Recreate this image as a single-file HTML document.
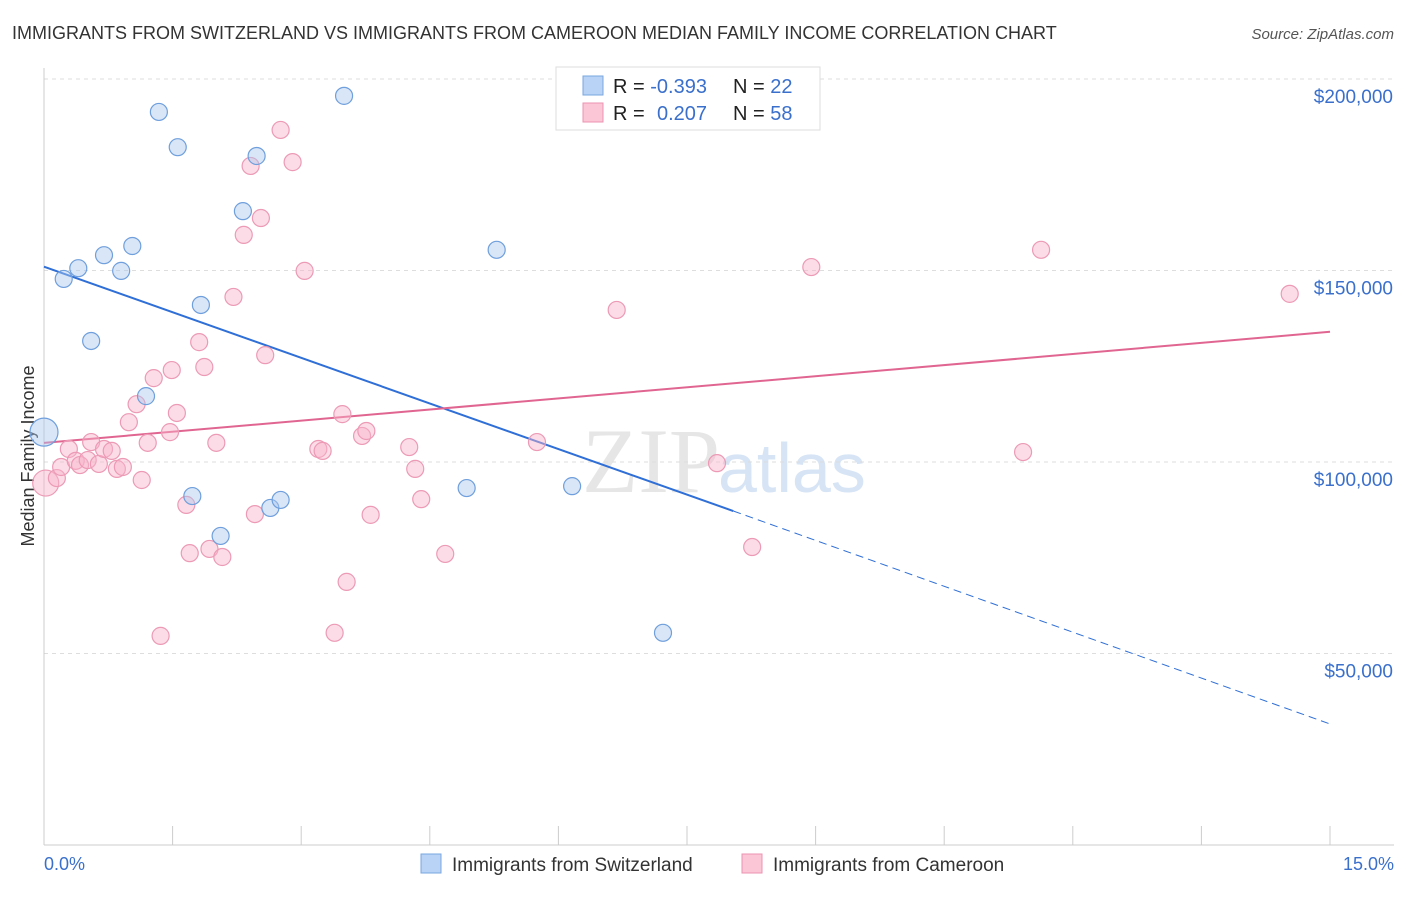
<!DOCTYPE html>
<html><head><meta charset="utf-8"><style>
body{margin:0;background:#fff;font-family:"Liberation Sans",sans-serif}
</style></head><body>
<svg id="c" width="1406" height="892" xmlns="http://www.w3.org/2000/svg" style="font-family:'Liberation Sans',sans-serif">
<text x="12" y="39" font-size="18" fill="#333">IMMIGRANTS FROM SWITZERLAND VS IMMIGRANTS FROM CAMEROON MEDIAN FAMILY INCOME CORRELATION CHART</text>
<text x="1394" y="39" font-size="15" fill="#555" font-style="italic" text-anchor="end">Source: ZipAtlas.com</text>
<text x="34" y="456" font-size="18" fill="#333" text-anchor="middle" transform="rotate(-90 34 456)">Median Family Income</text>
<text x="720" y="492" font-size="92" fill="#e6e6e6" text-anchor="end" font-family="Liberation Serif">ZIP</text>
<text x="718" y="492" font-size="70" fill="#d6e4f5">atlas</text>
<g id="grid"></g><g id="axes"></g><g id="trend"></g><g id="pts"></g>
<g>
<rect x="556" y="67" width="264" height="63" fill="#fff" stroke="#ddd"/>
<rect x="583" y="76" width="20" height="19" fill="#b8d3f5" stroke="#7aa7e0"/>
<rect x="583" y="103" width="20" height="19" fill="#fbc6d6" stroke="#eb93b0"/>
<text x="613" y="93" font-size="20" fill="#222">R = <tspan fill="#3a70cc">-0.393</tspan><tspan x="733">N = </tspan><tspan fill="#3a70cc">22</tspan></text>
<text x="613" y="120" font-size="20" fill="#222">R = <tspan x="657" fill="#3a70cc">0.207</tspan><tspan x="733">N = </tspan><tspan fill="#3a70cc">58</tspan></text>
</g>
<g>
<rect x="421" y="854" width="20" height="19" fill="#b8d3f5" stroke="#7aa7e0"/>
<text x="452" y="871" font-size="19" fill="#333">Immigrants from Switzerland</text>
<rect x="742" y="854" width="20" height="19" fill="#fbc6d6" stroke="#eb93b0"/>
<text x="773" y="871" font-size="19" fill="#333">Immigrants from Cameroon</text>
</g>
<text x="44" y="870" font-size="18" fill="#3a70cc">0.0%</text>
<text x="1394" y="870" font-size="18" fill="#3a70cc" text-anchor="end">15.0%</text>
</svg>
<script>
const blueX=[0.0,0.23,0.40,0.70,0.90,1.03,0.55,1.19,1.34,1.56,1.83,2.32,2.48,3.50,1.73,2.06,2.64,2.76,4.93,5.28,6.16,7.22];
const blueY=[107.8,147.8,150.6,154.0,149.9,156.4,131.6,117.2,191.4,182.2,141.0,165.5,179.9,195.6,91.1,80.7,88.0,90.1,93.2,155.4,93.7,55.4];
const pinkX=[0.02,0.15,0.20,0.29,0.37,0.42,0.51,0.55,0.64,0.70,0.79,0.85,0.92,0.99,1.08,1.14,1.21,1.28,1.36,1.47,1.49,1.55,1.66,1.70,1.81,1.87,1.93,2.01,2.08,2.21,2.33,2.46,2.53,2.41,2.58,2.76,2.90,3.04,3.20,3.25,3.39,3.48,3.53,3.71,3.76,3.81,4.26,4.33,4.40,4.68,5.75,6.68,7.85,8.26,8.95,11.42,11.63,14.53];
const pinkY=[94.5,95.8,98.7,103.4,100.3,99.2,100.5,105.2,99.5,103.4,102.9,98.2,98.7,110.4,115.1,95.3,105.0,121.9,54.6,107.8,124.0,112.8,88.8,76.2,131.3,124.8,77.3,105.0,75.2,143.1,159.3,86.4,163.7,177.3,127.9,186.7,178.3,149.9,103.4,102.9,55.4,112.5,68.7,106.8,108.1,86.2,103.9,98.2,90.3,76.0,105.2,139.7,99.7,77.8,150.9,102.6,155.4,143.9];
const blueTrendX=[0,8.04,15];
const blueTrendY=[151,87.2,31.6];
const pinkTrendX=[0,15];
const pinkTrendY=[105,134];
const yTicks=[50,100,150,200];
const yTickLabels=["$50,000","$100,000","$150,000","$200,000"];
const xTicks=[0,1.5,3,4.5,6,7.5,9,10.5,12,13.5,15];
const X=v=>44+v*(1286/15), Y=v=>845-v*(191.5/50);
const NS="http://www.w3.org/2000/svg";
function mk(p,t,a){const e=document.createElementNS(NS,t);for(const k in a)e.setAttribute(k,a[k]);p.appendChild(e);return e;}
const grid=document.getElementById('grid'),axes=document.getElementById('axes'),tr=document.getElementById('trend'),pts=document.getElementById('pts');
yTicks.forEach((v,i)=>{
 const l=mk(grid,'line',{x1:44,x2:1394,y1:Y(v),y2:Y(v),stroke:'#ddd','stroke-dasharray':'4,4'});
 
 
 const t=mk(grid,'text',{x:1393,y:Y(v)+24,'font-size':19,fill:'#3a70cc','text-anchor':'end'});t.textContent=yTickLabels[i];
 
 
});
const ax=mk(axes,'line',{x1:44,x2:44,y1:68,y2:845,stroke:'#ccc'});


const bx=mk(axes,'line',{x1:44,x2:1394,y1:845,y2:845,stroke:'#ccc'});


xTicks.forEach(v=>{const t=mk(axes,'line',{x1:X(v),x2:X(v),y1:826,y2:845,stroke:'#ccc'});
 
 });
let b1=mk(tr,'line',{x1:X(blueTrendX[0]),y1:Y(blueTrendY[0]),x2:X(blueTrendX[1]),y2:Y(blueTrendY[1]),stroke:'#2f6fd6','stroke-width':2});


let b2=mk(tr,'line',{x1:X(blueTrendX[1]),y1:Y(blueTrendY[1]),x2:X(blueTrendX[2]),y2:Y(blueTrendY[2]),stroke:'#2f6fd6','stroke-width':1,'stroke-dasharray':'8,5'});


let p1=mk(tr,'line',{x1:X(pinkTrendX[0]),y1:Y(pinkTrendY[0]),x2:X(pinkTrendX[1]),y2:Y(pinkTrendY[1]),stroke:'#e06590','stroke-width':2});


pinkX.forEach((x,i)=>{const c=mk(pts,'circle',{cx:X(x),cy:Y(pinkY[i]),r:i==0?13:8.5,fill:'rgba(248,180,202,0.45)',stroke:'#ec9ab5','stroke-width':1.2});
 
 });
blueX.forEach((x,i)=>{const c=mk(pts,'circle',{cx:X(x),cy:Y(blueY[i]),r:i==0?14:8.5,fill:'rgba(170,200,240,0.45)',stroke:'#6f9fdc','stroke-width':1.2});
 
 });
</script>
</body></html>
